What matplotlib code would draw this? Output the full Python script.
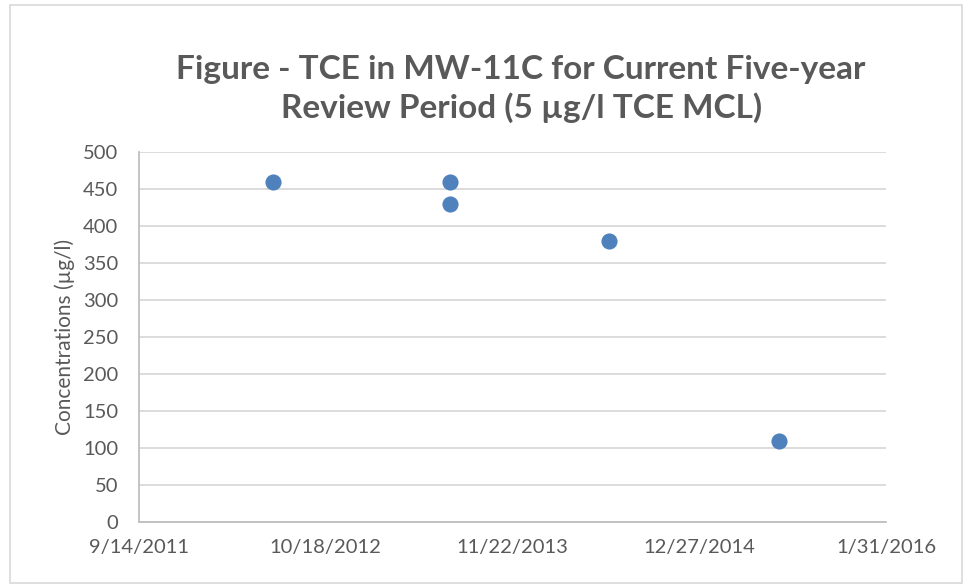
import matplotlib
matplotlib.use("Agg")
import matplotlib.pyplot as plt
from matplotlib.patches import Rectangle
import datetime as dt

plt.rcParams['font.family'] = ['Lato', 'DejaVu Sans']

sample_dates = ["2012-06-27", "2013-07-11", "2013-07-11", "2014-06-17", "2015-06-16"]
tce_values = [460, 460, 430, 380, 110]
x_tick_labels = ["9/14/2011", "10/18/2012", "11/22/2013", "12/27/2014", "1/31/2016"]

dates = [dt.datetime.strptime(d, "%Y-%m-%d") for d in sample_dates]
tick_dates = [dt.datetime.strptime(d, "%m/%d/%Y") for d in x_tick_labels]

fig = plt.figure(figsize=(9.65, 5.86), dpi=100)
fig.patches.append(Rectangle((10/965, 3/586), 952/965, 578/586, transform=fig.transFigure,
                             fill=False, edgecolor='#d9d9d9', linewidth=1.2))
ax = fig.add_axes([139/965, 1 - 522/586, (886 - 139)/965, (522 - 152)/586])

ax.scatter(dates, tce_values, s=135, color='#4F81BD', zorder=3, linewidths=0)

ax.set_xlim(tick_dates[0], tick_dates[-1])
ax.set_ylim(0, 500)
ax.set_xticks(tick_dates)
ax.set_xticklabels(x_tick_labels)
ax.set_yticks(range(0, 501, 50))
ax.tick_params(axis='both', length=0, labelsize=14.5, colors='#595959')
ax.tick_params(axis='y', pad=15)
ax.tick_params(axis='x', pad=12)
ax.grid(axis='y', color='#d9d9d9', linewidth=1.3)
ax.set_axisbelow(True)
for s in ['top', 'right']:
    ax.spines[s].set_visible(False)
ax.spines['left'].set_color('#bfbfbf')
ax.spines['bottom'].set_color('#bfbfbf')
ax.spines['left'].set_linewidth(1.3)
ax.spines['bottom'].set_linewidth(1.3)

ax.set_ylabel("Concentrations (µg/l)", fontsize=15, color='#595959', labelpad=6)
fig.text(0.54, 1 - 89/586, "Figure - TCE in MW-11C for Current Five-year\nReview Period (5 µg/l TCE MCL)",
         ha='center', va='center', fontsize=24, fontweight='bold', color='#595959', linespacing=1.3)

fig.savefig("out.png", dpi=100)
